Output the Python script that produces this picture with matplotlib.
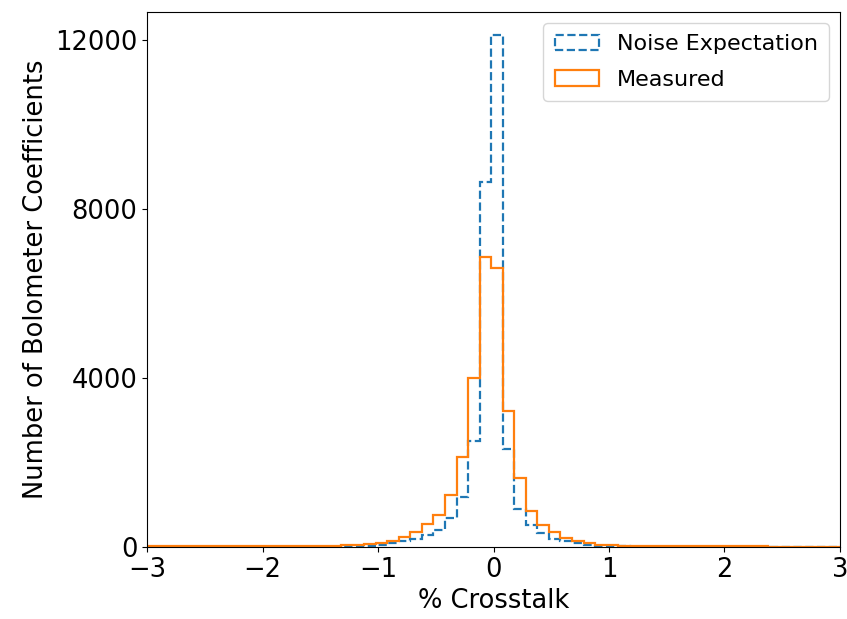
import numpy as np
import matplotlib
matplotlib.use("Agg")
import matplotlib.pyplot as plt

# Bin edges (% crosstalk), width 0.1, 61 bins
bin_edges = np.round(-3.02 + 0.1 * np.arange(62), 2)

# Noise expectation counts per bin (61 bins)
noise_counts = [
    0, 0, 0, 1, 1, 1, 1, 1, 2, 2,
    2, 3, 3, 4, 5, 7, 10, 15, 22, 32,
    47, 87, 142, 189, 284, 400, 690, 1180, 2500, 8640,
    12120,
    2320, 892, 521, 335, 189, 142, 87, 47, 30, 20,
    14, 10, 7, 5, 4, 3, 3, 2, 2, 1,
    1, 1, 1, 1, 1, 0, 0, 0, 0, 0,
]
# Measured counts per bin (61 bins)
measured_counts = [
    13, 13, 14, 14, 15, 15, 16, 16, 17, 18,
    19, 20, 21, 23, 25, 28, 32, 38, 47, 71,
    103, 150, 229, 347, 544, 750, 1220, 2120, 3990, 6870,
    6600,
    3220, 1625, 855, 521, 347, 221, 142, 87, 55, 38,
    30, 25, 22, 20, 18, 17, 16, 15, 15, 14,
    14, 13, 13, 12, 12, 12, 12, 11, 11, 11,
]

centers = (bin_edges[:-1] + bin_edges[1:]) / 2

fig = plt.figure(figsize=(8.47, 6.19), dpi=100)
ax = fig.add_axes([0.1736, 0.1163, 0.8181, 0.8643])

ax.hist(centers, bins=bin_edges, weights=noise_counts, histtype="step",
        linestyle="--", linewidth=1.6, color="tab:blue", label="Noise Expectation")
ax.hist(centers, bins=bin_edges, weights=measured_counts, histtype="step",
        linewidth=1.6, color="tab:orange", label="Measured")

ax.set_xlim(-3, 3)
ax.set_ylim(0, 12660)
ax.set_yticks([0, 4000, 8000, 12000])
ax.set_xticks([-3, -2, -1, 0, 1, 2, 3])
ax.tick_params(labelsize=18.5)
ax.set_xlabel("% Crosstalk", fontsize=18.5)
ax.set_ylabel("Number of Bolometer Coefficients", fontsize=18.5)
ax.legend(loc="upper right", fontsize=16, labelspacing=0.7, borderpad=0.5)

fig.savefig("out.png", dpi=100)
